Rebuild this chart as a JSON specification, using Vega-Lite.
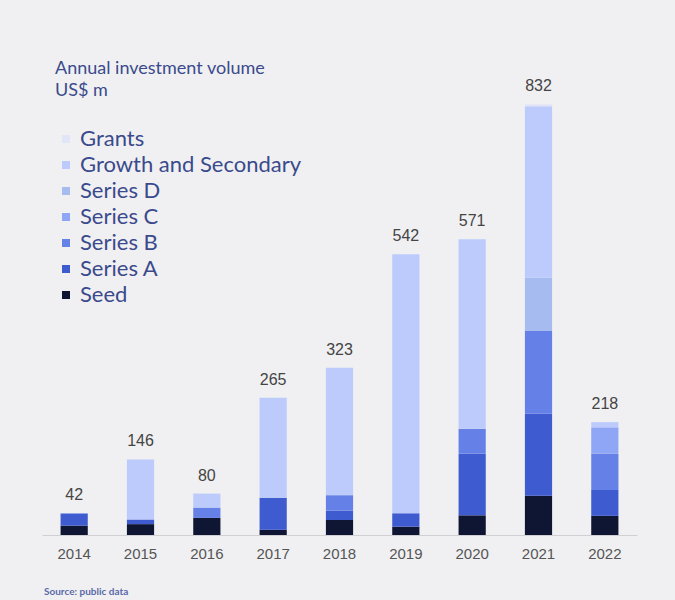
{
  "$schema": "https://vega.github.io/schema/vega-lite/v6.json",
  "autosize": {"type": "none"},
  "width": 595,
  "height": 466,
  "padding": {"left": 42, "top": 69, "right": 38, "bottom": 65},
  "background": "#f0f0f2",
  "config": {"view": {"stroke": null}},
  "title": {
    "text": "Source: public data",
    "orient": "bottom",
    "anchor": "start",
    "fontSize": 10,
    "font": "Lato",
    "fontWeight": "bold",
    "color": "#5a6aa8",
    "offset": 26,
    "dx": 2
  },
  "datasets": {
    "seg": [
      {"year": "2014", "stage": "Seed", "rank": 1, "value": 18},
      {"year": "2014", "stage": "Series A", "rank": 2, "value": 23},
      {"year": "2014", "stage": "Series B", "rank": 3, "value": 1},
      {"year": "2015", "stage": "Seed", "rank": 1, "value": 21},
      {"year": "2015", "stage": "Series A", "rank": 2, "value": 9},
      {"year": "2015", "stage": "Growth and Secondary", "rank": 6, "value": 116},
      {"year": "2016", "stage": "Seed", "rank": 1, "value": 33},
      {"year": "2016", "stage": "Series B", "rank": 3, "value": 20},
      {"year": "2016", "stage": "Growth and Secondary", "rank": 6, "value": 27},
      {"year": "2017", "stage": "Seed", "rank": 1, "value": 10},
      {"year": "2017", "stage": "Series A", "rank": 2, "value": 62},
      {"year": "2017", "stage": "Growth and Secondary", "rank": 6, "value": 193},
      {"year": "2018", "stage": "Seed", "rank": 1, "value": 29},
      {"year": "2018", "stage": "Series A", "rank": 2, "value": 18},
      {"year": "2018", "stage": "Series B", "rank": 3, "value": 30},
      {"year": "2018", "stage": "Growth and Secondary", "rank": 6, "value": 246},
      {"year": "2019", "stage": "Seed", "rank": 1, "value": 16},
      {"year": "2019", "stage": "Series A", "rank": 2, "value": 26},
      {"year": "2019", "stage": "Growth and Secondary", "rank": 6, "value": 500},
      {"year": "2020", "stage": "Seed", "rank": 1, "value": 38},
      {"year": "2020", "stage": "Series A", "rank": 2, "value": 119},
      {"year": "2020", "stage": "Series B", "rank": 3, "value": 48},
      {"year": "2020", "stage": "Growth and Secondary", "rank": 6, "value": 366},
      {"year": "2021", "stage": "Seed", "rank": 1, "value": 76},
      {"year": "2021", "stage": "Series A", "rank": 2, "value": 158},
      {"year": "2021", "stage": "Series B", "rank": 3, "value": 161},
      {"year": "2021", "stage": "Series D", "rank": 5, "value": 102},
      {"year": "2021", "stage": "Growth and Secondary", "rank": 6, "value": 331},
      {"year": "2021", "stage": "Grants", "rank": 7, "value": 4},
      {"year": "2022", "stage": "Seed", "rank": 1, "value": 37},
      {"year": "2022", "stage": "Series A", "rank": 2, "value": 50},
      {"year": "2022", "stage": "Series B", "rank": 3, "value": 70},
      {"year": "2022", "stage": "Series C", "rank": 4, "value": 51},
      {"year": "2022", "stage": "Growth and Secondary", "rank": 6, "value": 10}
    ],
    "tot": [
      {"year": "2014", "total": 42},
      {"year": "2015", "total": 146},
      {"year": "2016", "total": 80},
      {"year": "2017", "total": 265},
      {"year": "2018", "total": 323},
      {"year": "2019", "total": 542},
      {"year": "2020", "total": 571},
      {"year": "2021", "total": 832},
      {"year": "2022", "total": 218}
    ]
  },
  "encoding": {
    "x": {
      "field": "year",
      "type": "nominal",
      "scale": {"paddingInner": 0.59, "paddingOuter": 0.28},
      "axis": {
        "title": null,
        "labelAngle": 0,
        "labelFont": "Liberation Sans",
        "labelFontSize": 15,
        "labelColor": "#555555",
        "labelPadding": 11,
        "ticks": false,
        "domainColor": "#cfcfd4",
        "domainWidth": 1
      }
    }
  },
  "layer": [
    {
      "data": {"name": "seg"},
      "mark": {"type": "bar"},
      "encoding": {
        "y": {
          "field": "value",
          "type": "quantitative",
          "stack": "zero",
          "scale": {"domain": [0, 900]},
          "axis": null
        },
        "order": {"field": "rank", "type": "quantitative", "sort": "ascending"},
        "color": {
          "field": "stage",
          "type": "nominal",
          "scale": {
            "domain": ["Grants", "Growth and Secondary", "Series D", "Series C", "Series B", "Series A", "Seed"],
            "range": ["#e2e5f8", "#bccbfb", "#a6bbef", "#8fa5f5", "#6580e6", "#3f5bd0", "#0f1633"]
          },
          "legend": {
            "orient": "none",
            "legendX": 13,
            "legendY": -9,
            "title": ["Annual investment volume", "US$ m"],
            "titleFont": "Lato",
            "titleFontSize": 18,
            "titleFontWeight": "normal",
            "titleColor": "#3a4a8c",
            "titleLineHeight": 22,
            "titleLimit": 400,
            "titlePadding": 28,
            "labelFont": "Lato",
            "labelFontSize": 22,
            "labelColor": "#3a4a8c",
            "labelOffset": 3,
            "symbolType": "square",
            "symbolSize": 64,
            "symbolStrokeWidth": 0,
            "rowPadding": 4,
            "labelLimit": 400
          }
        }
      }
    },
    {
      "data": {"name": "tot"},
      "mark": {"type": "text", "dy": -18, "font": "Liberation Sans", "fontSize": 16, "color": "#444444"},
      "encoding": {
        "y": {"field": "total", "type": "quantitative", "scale": {"domain": [0, 900]}},
        "text": {"field": "total", "type": "quantitative"}
      }
    }
  ]
}
